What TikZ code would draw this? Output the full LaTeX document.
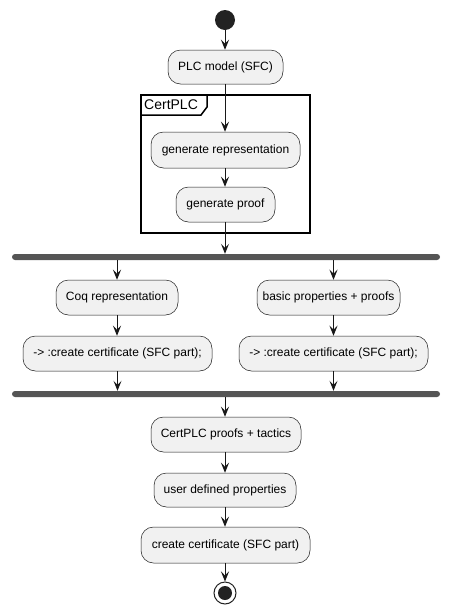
\documentclass[tikz,border=0pt]{standalone}
\usepackage{fontspec}
\setmainfont{Liberation Sans}
\usetikzlibrary{arrows.meta,calc}
\definecolor{boxfill}{HTML}{F1F1F1}
\definecolor{boxline}{HTML}{181818}
\definecolor{barcol}{HTML}{555555}
\definecolor{dotcol}{HTML}{222222}
\tikzset{
  act/.style={draw=boxline, line width=0.5pt, fill=boxfill, rounded corners=12.5pt,
    minimum height=35pt, inner sep=0pt, font=\fontsize{12}{14}\selectfont, text=black},
  bar/.style={fill=barcol, draw=none, rounded corners=3pt, minimum width=428pt, minimum height=6pt, inner sep=0pt},
  flow/.style={draw=boxline, line width=1pt, -{Stealth[length=10pt,width=8pt,inset=4pt]}},
}
\begin{document}
\begin{tikzpicture}[x=1pt,y=-1pt]
\useasboundingbox (0,0) rectangle (449,614);
% frame
\draw[line width=1.5pt] (141,95) rectangle (310,233);
\draw[line width=1.5pt] (141,115) -- (201,115) -- (207,107) -- (207,95);
\node[anchor=west, font=\fontsize{14}{16}\selectfont, inner sep=0pt] (framelabel) at (144,105) {CertPLC};
% start
\node[circle, fill=dotcol, minimum size=20pt, inner sep=0pt] (start) at (225,20) {};
\node[act, minimum width=115pt, minimum height=34pt] (plc) at (225.5,67) {PLC model (SFC)};
\node[act, minimum width=149pt, minimum height=36pt] (genrep) at (225.5,150) {generate representation};
\node[act, minimum width=99pt] (genproof) at (225.5,204.5) {generate proof};
\node[bar] (fork1) at (226,257) {};
\node[act, minimum width=122pt] (coq) at (117,297.5) {Coq representation};
\node[act, minimum width=143pt] (basic) at (328.5,297.5) {basic properties + proofs};
\node[act, minimum width=189pt] (cl) at (117.5,353.5) {-> :create certificate (SFC part);};
\node[act, minimum width=189pt] (cr) at (333.5,353.5) {-> :create certificate (SFC part);};
\node[bar] (fork2) at (226,394) {};
\node[act, minimum width=150pt] (cp) at (226,434.5) {CertPLC proofs + tactics};
\node[act, minimum width=142pt, minimum height=34pt] (ud) at (225,490) {user defined properties};
\node[act, minimum width=169pt, minimum height=36pt] (cc) at (225.5,545) {create certificate (SFC part)};
\node[circle, draw=dotcol, line width=1pt, fill=white, minimum size=22pt, inner sep=0pt] (stop) at (225,593) {};
\node[circle, fill=dotcol, minimum size=14pt, inner sep=0pt] (stopin) at (stop.center) {};
% connectors
\draw[flow] (start.south) -- (start.south |- plc.north);
\draw[flow] (plc.south -| start.south) -- (genrep.north -| start.south);
\draw[flow] (genrep.south -| start.south) -- (genproof.north -| start.south);
\draw[flow] (genproof.south -| start.south) -- (fork1.north -| start.south);
\draw[flow] (fork1.south -| coq.north) -- (coq.north);
\draw[flow] (fork1.south -| cr.north) -- (basic.north -| cr.north);
\draw[flow] (coq.south) -- (cl.north -| coq.south);
\draw[flow] (basic.south -| cr.north) -- (cr.north);
\draw[flow] (cl.south) -- (fork2.north -| cl.south);
\draw[flow] (cr.south) -- (fork2.north -| cr.south);
\draw[flow] (fork2.south -| start.south) -- (cp.north -| start.south);
\draw[flow] (cp.south -| start.south) -- (ud.north -| start.south);
\draw[flow] (ud.south -| start.south) -- (cc.north -| start.south);
\draw[flow] (cc.south -| start.south) -- (stop.north);
\end{tikzpicture}
\end{document}
